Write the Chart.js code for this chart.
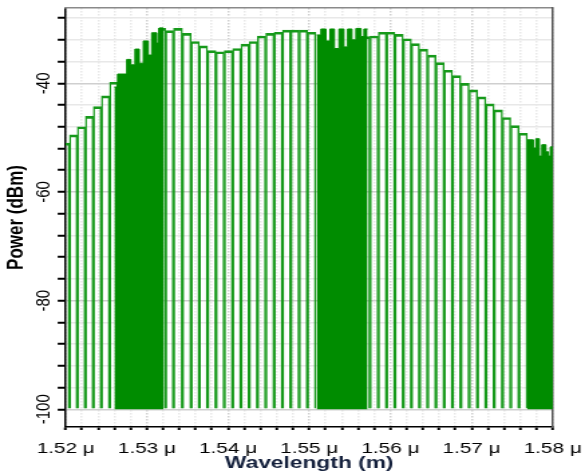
<!DOCTYPE html>
<html lang="en">
<head>
<meta charset="UTF-8">
<title>Power vs Wavelength</title>
<script src="https://cdn.jsdelivr.net/npm/chart.js"></script>
<style>
  html, body { margin: 0; padding: 0; background: #fff; }
</style>
</head>
<body>
<!-- drawn narrow and shown wide, like the reference -->
<canvas id="spec" width="437" height="475" style="width:585px;height:475px"></canvas>
<script>
// comb lines (centre wavelength in µm, peak power in dBm); null = inside a dense band
const lineWl = [1.51998, 1.52094, 1.52192, 1.52291, 1.52389, 1.52490, 1.52591, 1.52692, 1.52793, 1.52894,
                1.52995, 1.53096, 1.53185, 1.53274, 1.53382, 1.53493, 1.53596, 1.53696, 1.53799, 1.53902,
                1.54005, 1.54108, 1.54209, 1.54311, 1.54413, 1.54516, 1.54619, 1.54721, 1.54824, 1.54927,
                1.55029, 1.55132, 1.55234, 1.55336, 1.55438, 1.55595, 1.55698, 1.55799, 1.55902, 1.56004,
                1.56107, 1.56209, 1.56309, 1.56408, 1.56510, 1.56612, 1.56713, 1.56816, 1.56919, 1.57022,
                1.57125, 1.57227, 1.57330, 1.57432, 1.57533, 1.57636, 1.57738, 1.57841, 1.57943];
const linePow = [-51.0, -49.5, -48.0, -46.1, -44.3, -42.3, -39.8, -38.3, null, null,
                 null, null, -29.9, -30.3, -29.9, -30.8, -32.3, -33.1, -34.0, -34.2,
                 -34.0, -33.6, -32.8, -32.3, -31.3, -30.8, -30.6, -30.2, -30.2, -30.2,
                 -30.6, null, null, null, null, null, -31.4, -31.3, -30.6, -30.6,
                 -31.0, -31.8, -32.7, -33.7, -34.8, -36.2, -37.6, -38.6, -40.0, -41.2,
                 -42.5, -43.8, -44.9, -46.3, -47.8, -49.2, null, null, null];

// dense bands (step start wavelength, level)
const dense1Wl  = [1.52599, 1.52640, 1.52751, 1.52801, 1.52853, 1.52906, 1.52956, 1.53017, 1.53059, 1.53121, 1.53153, 1.53202];
const dense1Pow = [-40.7, -38.3, -35.6, -36.6, -33.7, -36.3, -32.2, -34.8, -30.7, -32.6, -29.8, -29.8];
const dense2Wl  = [1.55091, 1.55144, 1.55206, 1.55255, 1.55310, 1.55366, 1.55427, 1.55473, 1.55526, 1.55575, 1.55637, 1.55674, 1.55719];
const dense2Pow = [-31.1, -30.0, -32.2, -30.0, -33.6, -30.0, -33.3, -30.0, -32.0, -29.9, -31.4, -30.0, -30.0];
const dense3Wl  = [1.57687, 1.57761, 1.57792, 1.57835, 1.57866, 1.57915, 1.57946, 1.57970, 1.58];
const dense3Pow = [-50.4, -51.9, -50.2, -53.4, -51.3, -52.6, -53.4, -51.7, -51.7];

const xLabels = [1.52, 1.53, 1.54, 1.55, 1.56, 1.57, 1.58];
const yTicks = [-100, -96, -92, -88, -84, -80, -76, -72, -68, -64, -60, -56, -52, -48, -44, -40, -36, -32, -28];
const yLabels = [-100, -80, -60, -40];

const FONT = "'Liberation Sans', Arial, sans-serif";
const outline = '#16991a';
const solid = '#008c00';

function pts(xs, ys) {
    return xs.map((x, i) => ({ x: x, y: ys[i] }));
}

function isLabelX(v) {
    return xLabels.some(l => Math.abs(l - v) < 1e-7);
}

function band(xs, ys) {
    return {
        type: 'line',
        data: pts(xs, ys),
        stepped: true,
        fill: { value: -100 },
        borderColor: solid,
        backgroundColor: solid,
        borderWidth: 1,
        pointRadius: 0,
        order: 1
    };
}

const chart = new Chart(document.getElementById('spec'), {
    type: 'bar',
    data: {
        datasets: [
            {
                data: pts(lineWl, linePow),
                base: -100,
                barThickness: 'flex',
                categoryPercentage: 1,
                barPercentage: 1,
                backgroundColor: 'rgba(0,0,0,0)',
                borderColor: outline,
                borderWidth: { top: 2, left: 0.8, right: 0.8, bottom: 0 },
                clip: 0,
                order: 2
            },
            band(dense1Wl, dense1Pow),
            band(dense2Wl, dense2Pow),
            band(dense3Wl, dense3Pow)
        ]
    },
    options: {
        responsive: false,
        animation: false,
        devicePixelRatio: 1,
        layout: { padding: { top: 8, right: 24.1, bottom: 0, left: 0 } },
        plugins: {
            legend: { display: false },
            tooltip: { enabled: false }
        },
        scales: {
            x: {
                type: 'linear',
                position: 'bottom',
                min: 1.52,
                max: 1.58,
                offset: false,
                afterFit: (s) => { s.height = 48; s.paddingLeft = 0; s.paddingRight = 0; },
                grid: {
                    offset: false,
                    color: (c) => (c.tick && isLabelX(c.tick.value)) ? '#cfcfcf' : '#e8e8e8',
                    lineWidth: 1.5,
                    tickColor: '#000',
                    tickLength: 3,
                    tickWidth: 2
                },
                border: { color: '#000', width: 1.5, dash: [1.5, 1.5] },
                ticks: {
                    stepSize: 0.002,
                    autoSkip: false,
                    maxRotation: 0,
                    padding: 9,
                    color: '#000',
                    font: { family: FONT, size: 15.5 },
                    callback: (v) => isLabelX(v) ? v.toFixed(2) + ' \u03bc' : ''
                },
                title: {
                    display: true,
                    text: 'Wavelength (m)',
                    color: '#14203c',
                    font: { family: FONT, size: 17, weight: 'bold' },
                    padding: { top: 0, bottom: 1 }
                }
            },
            y: {
                type: 'linear',
                position: 'left',
                min: -103.26,
                max: -26.14,
                afterBuildTicks: (s) => { s.ticks = yTicks.map(v => ({ value: v })); },
                afterFit: (s) => { s.width = 49.1; s.paddingTop = 0; s.paddingBottom = 0; },
                grid: {
                    color: (c) => (c.tick && c.tick.value % 20 === 0) ? '#cfcfcf' : '#e8e8e8',
                    lineWidth: 1.5,
                    tickColor: '#000',
                    tickLength: 6,
                    tickWidth: 2
                },
                border: { color: '#000', width: 1.5 },
                ticks: {
                    autoSkip: false,
                    minRotation: 90,
                    maxRotation: 90,
                    crossAlign: 'center',
                    padding: -5,
                    color: '#000',
                    font: { family: FONT, size: 15 },
                    callback: (v) => yLabels.includes(v) ? String(v) : ''
                },
                title: {
                    display: true,
                    text: 'Power (dBm)',
                    color: '#000',
                    font: { family: FONT, size: 17, weight: 'bold' },
                    padding: { top: 2.5, bottom: 0 }
                }
            },
            x2: {
                type: 'linear',
                position: 'top',
                min: 1.52,
                max: 1.58,
                grid: { display: false, drawTicks: false },
                ticks: { display: false },
                border: { color: '#8a8a8a', width: 1.5, dash: [2, 2] }
            },
            y2: {
                type: 'linear',
                position: 'right',
                min: -103.26,
                max: -26.14,
                grid: { display: false, drawTicks: false },
                ticks: { display: false },
                border: { color: '#555', width: 1.5, dash: [1.5, 1.5] }
            }
        }
    }
});
</script>
</body>
</html>
